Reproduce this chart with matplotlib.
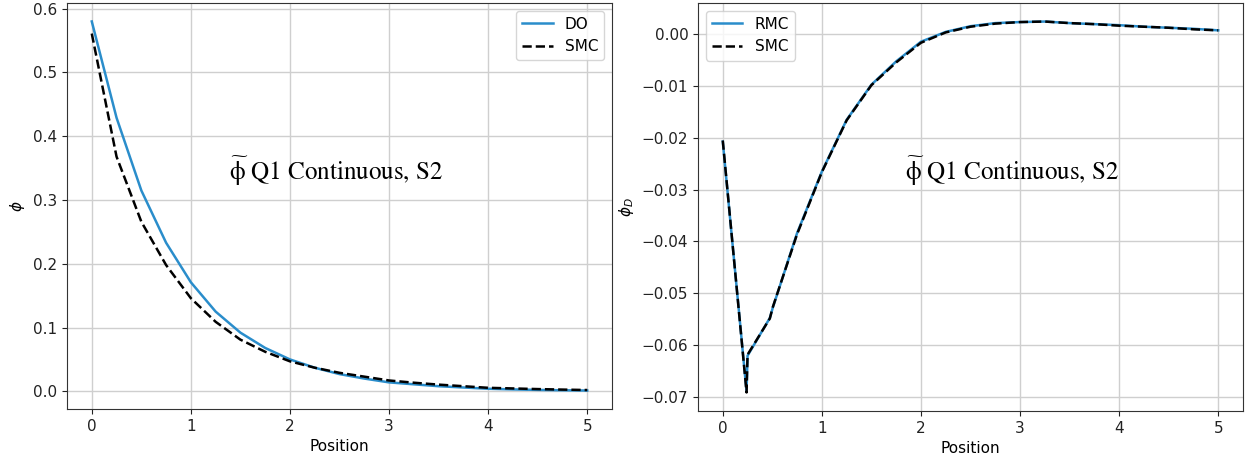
import matplotlib
matplotlib.use("Agg")
import matplotlib.pyplot as plt

# Scalar flux profiles (left panel)
position = [0.0, 0.25, 0.5, 0.75, 1.0, 1.25, 1.5, 1.75, 2.0, 2.25, 2.5,
            2.75, 3.0, 3.25, 3.5, 3.75, 4.0, 4.25, 4.5, 4.75, 5.0]
phi_do = [0.580, 0.429, 0.315, 0.233, 0.171, 0.125, 0.092, 0.068, 0.050,
          0.037, 0.027, 0.020, 0.014, 0.011, 0.008, 0.006, 0.0040, 0.0030,
          0.0022, 0.0016, 0.0012]
phi_smc = [0.561, 0.368, 0.266, 0.198, 0.146, 0.109, 0.081, 0.062, 0.047,
           0.037, 0.029, 0.023, 0.017, 0.0135, 0.0105, 0.0080, 0.0055,
           0.0045, 0.0035, 0.0027, 0.0020]

# Flux difference profiles (right panel)
position_d = [0.0, 0.24, 0.25, 0.475, 0.505, 0.75, 1.0, 1.25, 1.5, 1.75,
              2.0, 2.25, 2.5, 2.75, 3.0, 3.25, 3.5, 3.75, 4.0, 4.25, 4.5,
              4.75, 5.0]
phi_d_rmc = [-0.0207, -0.0690, -0.0621, -0.0548, -0.0528, -0.0384, -0.0265,
             -0.0165, -0.0097, -0.0052, -0.0014, 0.0005, 0.0016, 0.0022,
             0.0024, 0.0025, 0.0022, 0.0020, 0.0018, 0.0015, 0.0013, 0.0011,
             0.0008]
phi_d_smc = [-0.0205, -0.0692, -0.0619, -0.0549, -0.0527, -0.0386, -0.0266,
             -0.0166, -0.0098, -0.0054, -0.0016, 0.0004, 0.0015, 0.0021,
             0.0024, 0.0025, 0.0022, 0.0020, 0.0017, 0.0015, 0.0013, 0.0010,
             0.0008]

caption = r"$\widetilde{\mathrm{\phi}}$ Q1 Continuous, S2"

BLUE = "#2a8dcb"
W, H = 1247, 463
fig = plt.figure(figsize=(W / 100, H / 100), dpi=100)

plt.rcParams["font.size"] = 11

ax1 = fig.add_axes([67 / W, (H - 409) / H, 545 / W, 406 / H])
ax2 = fig.add_axes([698 / W, (H - 411) / H, 545 / W, 408 / H])

for ax in (ax1, ax2):
    ax.grid(True, color="#cfcfcf", linewidth=1.0)
    ax.set_axisbelow(True)
    for sp in ax.spines.values():
        sp.set_color("#333333")
    ax.tick_params(labelsize=11, colors="#222222")
    ax.set_xlabel("Position", fontsize=11)

ax1.plot(position, phi_do, color=BLUE, lw=1.8, label="DO")
ax1.plot(position, phi_smc, color="black", lw=1.8, ls="--", label="SMC")
ax1.set_ylabel(r"$\phi$", fontsize=11)
ax1.legend(loc="upper right", fontsize=11)
ax1.text(0.494, 0.584, caption, transform=ax1.transAxes, ha="center",
         va="center", fontsize=18, family="STIXGeneral", math_fontfamily="stix")

ax2.plot(position_d, phi_d_rmc, color=BLUE, lw=1.8, label="RMC")
ax2.plot(position_d, phi_d_smc, color="black", lw=1.8, ls="--", label="SMC")
ax2.set_ylabel(r"$\phi_D$", fontsize=11)
ax2.legend(loc="upper left", fontsize=11)
ax2.text(0.576, 0.586, caption, transform=ax2.transAxes, ha="center",
         va="center", fontsize=18, family="STIXGeneral", math_fontfamily="stix")

fig.savefig("out.png", dpi=100)
